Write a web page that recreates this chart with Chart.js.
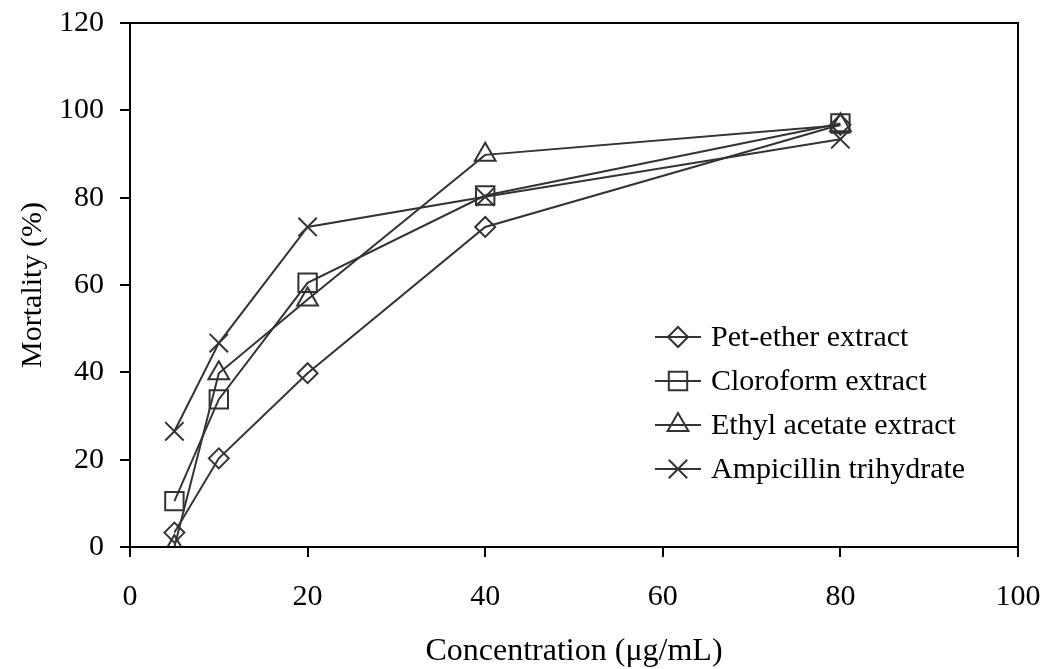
<!DOCTYPE html>
<html>
<head>
<meta charset="utf-8">
<title>Mortality vs concentration</title>
<script src="https://cdn.jsdelivr.net/npm/chart.js@4.4.1/dist/chart.umd.min.js"></script>
<style>
  html, body { margin: 0; padding: 0; background: #fff; }
  #wrap { width: 1044px; height: 669px; }
</style>
</head>
<body>
<div id="wrap"><canvas id="mortalityChart" width="1044" height="669"></canvas></div>
<script>
// Data
const concentrations = [5, 10, 20, 40, 80];
const petEther = [3.3, 20.3, 39.8, 73.3, 96.7];
const chloroform = [10.5, 33.8, 60.5, 80.5, 97.0];
const ethylAcetate = [0, 39.8, 56.7, 89.8, 96.6];
const ampicillin = [26.5, 46.7, 73.3, 80.2, 93.4];
const seriesNames = ['Pet-ether extract', 'Cloroform extract', 'Ethyl acetate extract', 'Ampicillin trihydrate'];
const xTicks = [0, 20, 40, 60, 80, 100];
const yTicks = [0, 20, 40, 60, 80, 100, 120];

const INK = '#333333';
const FONT = "'Liberation Serif', 'Times New Roman', serif";

const toPoints = ys => concentrations.map((x, i) => ({ x: x, y: ys[i] }));

const makeSeries = (label, ys, style, radius) => ({
    label: label,
    data: toPoints(ys),
    borderColor: INK,
    backgroundColor: 'rgba(0,0,0,0)',
    borderWidth: 2,
    pointStyle: style,
    pointRadius: radius,
    pointBorderWidth: 2,
    pointBorderColor: INK,
    pointBackgroundColor: 'rgba(0,0,0,0)',
    tension: 0,
    fill: false
});

// draws the box round the plot area
const frameBox = {
    id: 'frameBox',
    afterDraw(chart) {
        const { ctx, chartArea: a } = chart;
        ctx.save();
        ctx.strokeStyle = '#000';
        ctx.lineWidth = 2;
        ctx.strokeRect(a.left, a.top, a.right - a.left, a.bottom - a.top);
        ctx.restore();
    }
};

// legend inside the plot: line with marker, then label
const insideLegend = {
    id: 'insideLegend',
    afterDatasetsDraw(chart) {
        const ctx = chart.ctx;
        const x0 = 655, x1 = 701, textX = 711;
        const top = 337, step = 44;
        ctx.save();
        chart.data.datasets.forEach((ds, i) => {
            const y = top + i * step;
            ctx.strokeStyle = INK;
            ctx.lineWidth = 2;
            ctx.beginPath();
            ctx.moveTo(x0, y);
            ctx.lineTo(x1, y);
            ctx.stroke();
            ctx.fillStyle = 'rgba(0,0,0,0)';
            Chart.helpers.drawPoint(ctx, {
                pointStyle: ds.pointStyle,
                radius: ds.pointRadius,
                borderWidth: 2,
                rotation: 0
            }, (x0 + x1) / 2, y);
            ctx.fillStyle = '#000';
            ctx.font = '30px ' + FONT;
            ctx.textAlign = 'left';
            ctx.textBaseline = 'middle';
            ctx.fillText(ds.label, textX, y + 1);
        });
        ctx.restore();
    }
};

const ctx = document.getElementById('mortalityChart').getContext('2d');
new Chart(ctx, {
    type: 'line',
    data: {
        datasets: [
            makeSeries(seriesNames[0], petEther, 'rectRot', 10),
            makeSeries(seriesNames[1], chloroform, 'rect', 13),
            makeSeries(seriesNames[2], ethylAcetate, 'triangle', 12),
            makeSeries(seriesNames[3], ampicillin, 'crossRot', 13)
        ]
    },
    options: {
        responsive: false,
        devicePixelRatio: 1,
        animation: false,
        layout: { padding: { left: 0, right: 26, top: 23, bottom: 0 } },
        plugins: {
            legend: { display: false },
            tooltip: { enabled: false }
        },
        scales: {
            x: {
                type: 'linear',
                min: 0,
                max: 100,
                afterBuildTicks: axis => { axis.ticks = xTicks.map(v => ({ value: v })); },
                afterFit: scale => {
                    scale.height = 122;
                    scale.paddingLeft = 0;
                    scale.paddingRight = 0;
                },
                grid: { display: true, drawOnChartArea: false, drawTicks: true, tickLength: 10, color: '#000', lineWidth: 2 },
                border: { display: true, color: '#000', width: 2 },
                ticks: { color: '#000', padding: 22, font: { family: FONT, size: 30 }, maxRotation: 0 },
                title: { display: true, text: 'Concentration (μg/mL)', color: '#000', font: { family: FONT, size: 32, lineHeight: 1 }, padding: { top: 0, bottom: 1 } }
            },
            y: {
                min: 0,
                max: 120,
                afterBuildTicks: axis => { axis.ticks = yTicks.map(v => ({ value: v })); },
                afterFit: scale => {
                    scale.width = 130;
                    scale.paddingTop = 0;
                    scale.paddingBottom = 0;
                },
                grid: { display: true, drawOnChartArea: false, drawTicks: true, tickLength: 10, color: '#000', lineWidth: 2 },
                border: { display: true, color: '#000', width: 2 },
                ticks: { color: '#000', padding: 16, font: { family: FONT, size: 30 } },
                title: { display: true, text: 'Mortality (%)', color: '#000', font: { family: FONT, size: 30 }, padding: { top: 15, bottom: 0 } }
            }
        }
    },
    plugins: [frameBox, insideLegend]
});
</script>
</body>
</html>
